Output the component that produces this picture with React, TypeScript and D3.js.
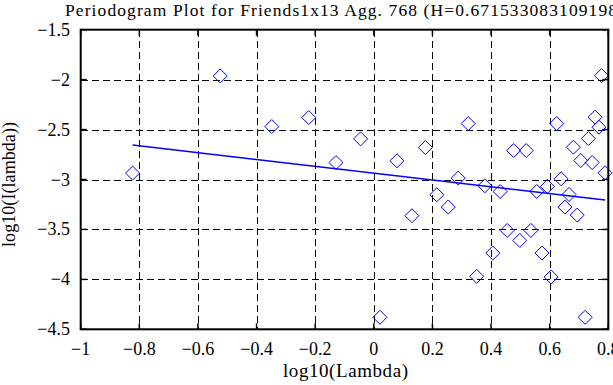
import React, { useRef, useEffect } from "react";
import * as d3 from "d3";

// periodogram points: log10(lambda) vs log10(I(lambda))
const logLambda = [
  -0.823, -0.524, -0.348, -0.222, -0.129, -0.045, 0.021, 0.079, 0.13, 0.176,
  0.215, 0.254, 0.288, 0.322, 0.351, 0.379, 0.406, 0.431, 0.455, 0.477,
  0.498, 0.52, 0.536, 0.556, 0.574, 0.592, 0.605, 0.624, 0.639, 0.652,
  0.666, 0.681, 0.694, 0.706, 0.721, 0.732, 0.745, 0.755, 0.768, 0.777, 0.789,
];
const logPower = [
  -2.936, -1.963, -2.47, -2.38, -2.83, -2.593, -4.38, -2.813, -3.363, -2.68,
  -3.153, -3.276, -2.986, -2.44, -3.97, -3.063, -3.736, -3.12, -3.51, -2.71,
  -3.61, -2.71, -3.51, -3.12, -3.736, -3.07, -3.976, -2.44, -2.993, -3.276,
  -3.15, -2.676, -3.356, -2.81, -4.38, -2.59, -2.83, -2.376, -2.476, -1.96, -2.933,
];

// least squares fit line endpoints
const fitX = [-0.823, 0.789];
const fitY = [-2.655, -3.206];

const xTicks = [-1, -0.8, -0.6, -0.4, -0.2, 0, 0.2, 0.4, 0.6, 0.8];
const yTicks = [-1.5, -2, -2.5, -3, -3.5, -4, -4.5];

// title runs off the right edge in the original
const titleText = "Periodogram Plot for Friends1x13 Agg. 768 (H=0.671533083109198";

export default function App() {
  const ref = useRef<SVGSVGElement>(null);

  useEffect(() => {
    const svg = d3.select(ref.current);
    svg.selectAll("*").remove();

    const width = 613, height = 385;
    const left = 80.7, right = 608.3, top = 29.7, bottom = 329.3;
    const font = "'Liberation Serif', 'DejaVu Serif', serif";

    const x = d3.scaleLinear().domain([-1, 0.8]).range([left, right]);
    const y = d3.scaleLinear().domain([-4.5, -1.5]).range([bottom, top]);

    svg.append("rect").attr("width", width).attr("height", height).attr("fill", "#fff");

    // grid
    const grid = svg.append("g")
      .attr("stroke", "#000")
      .attr("stroke-width", 1)
      .attr("stroke-dasharray", "7,4")
      .attr("shape-rendering", "crispEdges");
    xTicks.slice(1, -1).forEach((t) => {
      grid.append("line")
        .attr("x1", Math.round(x(t)) + 0.5).attr("x2", Math.round(x(t)) + 0.5)
        .attr("y1", top).attr("y2", bottom);
    });
    yTicks.slice(1, -1).forEach((t) => {
      grid.append("line")
        .attr("x1", left).attr("x2", right)
        .attr("y1", Math.round(y(t)) + 0.5).attr("y2", Math.round(y(t)) + 0.5);
    });

    // ticks, inward on all sides
    const ticks = svg.append("g").attr("stroke", "#000").attr("stroke-width", 1.5);
    xTicks.forEach((t) => {
      ticks.append("line").attr("x1", x(t)).attr("x2", x(t)).attr("y1", bottom).attr("y2", bottom - 6);
      ticks.append("line").attr("x1", x(t)).attr("x2", x(t)).attr("y1", top).attr("y2", top + 6);
    });
    yTicks.forEach((t) => {
      ticks.append("line").attr("x1", left).attr("x2", left + 6).attr("y1", y(t)).attr("y2", y(t));
      ticks.append("line").attr("x1", right).attr("x2", right - 6).attr("y1", y(t)).attr("y2", y(t));
    });

    // fit line
    const line = d3.line<number>().x((d) => x(d)).y((_, i) => y(fitY[i]));
    svg.append("path")
      .attr("d", line(fitX))
      .attr("fill", "none")
      .attr("stroke", "#0000ff")
      .attr("stroke-width", 1.5);

    // diamonds (half diagonal ~7px)
    const sym = d3.symbol().type(d3.symbolDiamond2).size(125);
    svg.append("g")
      .selectAll("path")
      .data(logLambda)
      .join("path")
      .attr("transform", (d, i) => `translate(${x(d)},${y(logPower[i])})`)
      .attr("d", sym)
      .attr("fill", "none")
      .attr("stroke", "#0000ff")
      .attr("stroke-width", 1);

    // frame
    svg.append("rect")
      .attr("x", left).attr("y", top)
      .attr("width", right - left).attr("height", bottom - top)
      .attr("fill", "none")
      .attr("stroke", "#000")
      .attr("stroke-width", 2);

    // tick labels
    const fmt = (v: number) => String(v).replace("-", "\u2212");
    svg.append("g")
      .selectAll("text")
      .data(xTicks)
      .join("text")
      .attr("x", (d) => x(d))
      .attr("y", 355)
      .attr("text-anchor", "middle")
      .attr("font-family", font)
      .attr("font-size", 18)
      .text((d) => fmt(d));
    svg.append("g")
      .selectAll("text")
      .data(yTicks)
      .join("text")
      .attr("x", 70)
      .attr("y", (d) => y(d) + 6)
      .attr("text-anchor", "end")
      .attr("font-family", font)
      .attr("font-size", 18)
      .text((d) => fmt(d));

    // titles
    svg.append("text")
      .attr("x", 65).attr("y", 16)
      .attr("font-family", font).attr("font-size", 17.5)
      .attr("textLength", 552)
      .attr("lengthAdjust", "spacing")
      .text(titleText);
    svg.append("text")
      .attr("x", 345.5).attr("y", 377)
      .attr("text-anchor", "middle")
      .attr("font-family", font).attr("font-size", 19)
      .attr("textLength", 125)
      .attr("lengthAdjust", "spacing")
      .text("log10(Lambda)");
    svg.append("text")
      .attr("transform", `translate(15,${(top + bottom) / 2 + 5}) rotate(-90)`)
      .attr("text-anchor", "middle")
      .attr("font-family", font).attr("font-size", 18)
      .attr("textLength", 125)
      .attr("lengthAdjust", "spacing")
      .text("log10(I(lambda))");
  }, []);

  return (
    <svg
      ref={ref}
      width={613}
      height={385}
      style={{ position: "absolute", left: 0, top: 0, display: "block" }}
    />
  );
}
